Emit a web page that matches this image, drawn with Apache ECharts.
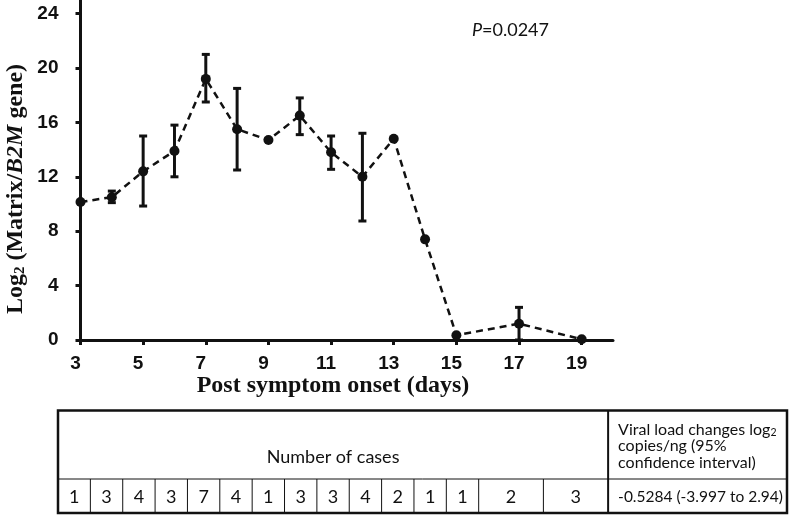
<!DOCTYPE html>
<html><head><meta charset="utf-8">
<script src="https://cdn.jsdelivr.net/npm/echarts@6/dist/echarts.min.js"></script>
<style>html,body{margin:0;padding:0;background:#fff}#c{width:789px;height:516px}</style>
</head><body><div id="c"></div>
<script>
// ---- data ----
const days     = [3, 4, 5, 6, 7, 8, 9, 10, 11, 12, 13, 14, 15, 17, 19];
const means    = [10.15, 10.5, 12.4, 13.9, 19.2, 15.5, 14.7, 16.5, 13.8, 12.0, 14.8, 7.4, 0.35, 1.2, 0.05];
const errLow   = [null, 10.1, 9.85, 12.0, 17.5, 12.5, null, 15.1, 12.55, 8.75, null, null, null, 0, null];
const errHigh  = [null, 10.95, 15.0, 15.8, 21.0, 18.5, null, 17.8, 15.0, 15.2, null, null, null, 2.4, null];
const xTicks   = [3, 5, 7, 9, 11, 13, 15, 17, 19];
const yTicks   = [0, 4, 8, 12, 16, 20, 24];
const caseCounts = [1, 3, 4, 3, 7, 4, 1, 3, 3, 4, 2, 1, 1, 2, 3];
const caseSpans  = [1, 1, 1, 1, 1, 1, 1, 1, 1, 1, 1, 1, 1, 2, 2];
const tableHeader = 'Number of cases';
const ciHeader = ['Viral load changes log{sub|2}', 'copies/ng (95%', 'confidence interval)'];
const ciValue = '-0.5284 (-3.997 to 2.94)';
const pValue = '0.0247';
const xName = 'Post symptom onset (days)';

// ---- chart ----
const chart = echarts.init(document.getElementById('c'), null, {renderer: 'canvas'});
const INK = '#111';
const SANS = 'Lato';
const SERIF = 'Liberation Serif';
const tickFont = {fontSize: 19, fontWeight: 'bold', fontFamily: 'Liberation Sans', color: INK};

// table layout
const T = {left: 58, right: 787, top: 410.5, mid: 479, bottom: 513, unit: 32.36};
const graphics = [];
const tblFont = {fontSize: 18, fontFamily: SANS, fill: INK};
let cx = T.left;
caseCounts.forEach((c, i) => {
  const w = caseSpans[i] * T.unit;
  graphics.push({type: 'text', x: cx + w / 2, y: 497,
    style: Object.assign({text: String(c), align: 'center', verticalAlign: 'middle'}, tblFont)});
  cx += w;
  if (i < caseCounts.length - 1) {
    graphics.push({type: 'line', shape: {x1: cx, y1: T.mid, x2: cx, y2: T.bottom},
      style: {stroke: INK, lineWidth: 1}});
  }
});
const ciX = cx;
graphics.push({type: 'line', shape: {x1: ciX, y1: T.top, x2: ciX, y2: T.bottom}, style: {stroke: INK, lineWidth: 2}});
graphics.push({type: 'line', shape: {x1: T.left, y1: T.mid, x2: T.right, y2: T.mid}, style: {stroke: INK, lineWidth: 1}});
graphics.push({type: 'rect', shape: {x: T.left, y: T.top, width: T.right - T.left, height: T.bottom - T.top},
  style: {fill: 'none', stroke: INK, lineWidth: 2.5}});
graphics.push({type: 'text', x: (T.left + ciX) / 2, y: 457,
  style: Object.assign({text: tableHeader, align: 'center', verticalAlign: 'middle'}, tblFont)});
graphics.push({type: 'text', x: ciX + 10, y: 421.5,
  style: {text: ciHeader.join('\n'), align: 'left', verticalAlign: 'top',
    fontSize: 16, fontFamily: SANS, fill: INK, lineHeight: 16.5,
    rich: {sub: {fontSize: 10.5, fontFamily: SANS, fill: INK, lineHeight: 6, verticalAlign: 'bottom'}}}});
graphics.push({type: 'text', x: ciX + 10, y: 497,
  style: {text: ciValue, align: 'left', verticalAlign: 'middle', fontSize: 15.5, fontFamily: SANS, fill: INK}});

// p value
graphics.push({type: 'text', x: 472, y: 30,
  style: {text: '{i|P}=' + pValue, align: 'left', verticalAlign: 'middle', fontSize: 18, fontFamily: SANS, fill: INK,
    rich: {i: {fontSize: 18, fontFamily: SANS, fontStyle: 'italic', fill: INK}}}});

// axis titles
const serifB = {fontSize: 24, fontFamily: SERIF, fontWeight: 'bold', fill: INK};
graphics.push({type: 'text', x: 333, y: 386,
  style: Object.assign({text: xName, align: 'center', verticalAlign: 'middle'}, serifB)});
graphics.push({type: 'text', x: 16, y: 189, rotation: Math.PI / 2,
  style: Object.assign({text: 'Log{sub|2} (Matrix/{it|B2M} gene)', align: 'center', verticalAlign: 'middle', lineHeight: 24,
    rich: {
      sub: {fontSize: 15, fontFamily: SERIF, fontWeight: 'bold', fill: INK, lineHeight: 10, verticalAlign: 'bottom'},
      it: {fontSize: 24, fontFamily: SERIF, fontWeight: 'bold', fontStyle: 'italic', fill: INK, lineHeight: 24}
    }}, serifB)});

const errData = [];
days.forEach((d, i) => { if (errLow[i] !== null) errData.push([d, errLow[i], errHigh[i]]); });

chart.setOption({
  animation: false,
  backgroundColor: '#fff',
  grid: {left: 80.5, right: 176, top: 0, bottom: 176, outerBoundsMode: 'none'},
  xAxis: {
    type: 'value', min: 3, max: 20,
    axisLine: {onZero: false, lineStyle: {color: INK, width: 3}},
    axisTick: {customValues: xTicks, length: 5, lineStyle: {color: INK, width: 3}},
    axisLabel: Object.assign({customValues: xTicks, margin: 14, padding: [0, 10, 0, 0]}, tickFont),
    splitLine: {show: false}
  },
  yAxis: {
    type: 'value', min: 0, max: 25,
    axisLine: {show: true, onZero: false, lineStyle: {color: INK, width: 3}},
    axisTick: {show: true, customValues: yTicks, length: 5, lineStyle: {color: INK, width: 3}},
    axisLabel: Object.assign({customValues: yTicks, margin: 22}, tickFont),
    splitLine: {show: false}
  },
  series: [
    {
      type: 'custom', z: 2, clip: false,
      data: errData,
      encode: {x: 0, y: [1, 2]},
      renderItem: (params, api) => {
        const x = api.value(0);
        const lo = api.coord([x, api.value(1)]);
        const hi = api.coord([x, api.value(2)]);
        const w = 4;
        const st = {stroke: INK, lineWidth: 3};
        return {type: 'group', children: [
          {type: 'line', shape: {x1: lo[0], y1: lo[1], x2: hi[0], y2: hi[1]}, style: st},
          {type: 'line', shape: {x1: hi[0] - w, y1: hi[1], x2: hi[0] + w, y2: hi[1]}, style: st},
          {type: 'line', shape: {x1: lo[0] - w, y1: lo[1], x2: lo[0] + w, y2: lo[1]}, style: st}
        ]};
      }
    },
    {
      type: 'line', z: 3, clip: false,
      data: days.map((d, i) => [d, means[i]]),
      symbol: 'circle', symbolSize: 10,
      itemStyle: {color: INK},
      lineStyle: {color: INK, width: 2.5, type: [7, 5]}
    }
  ],
  graphic: graphics
});
</script>
</body></html>
